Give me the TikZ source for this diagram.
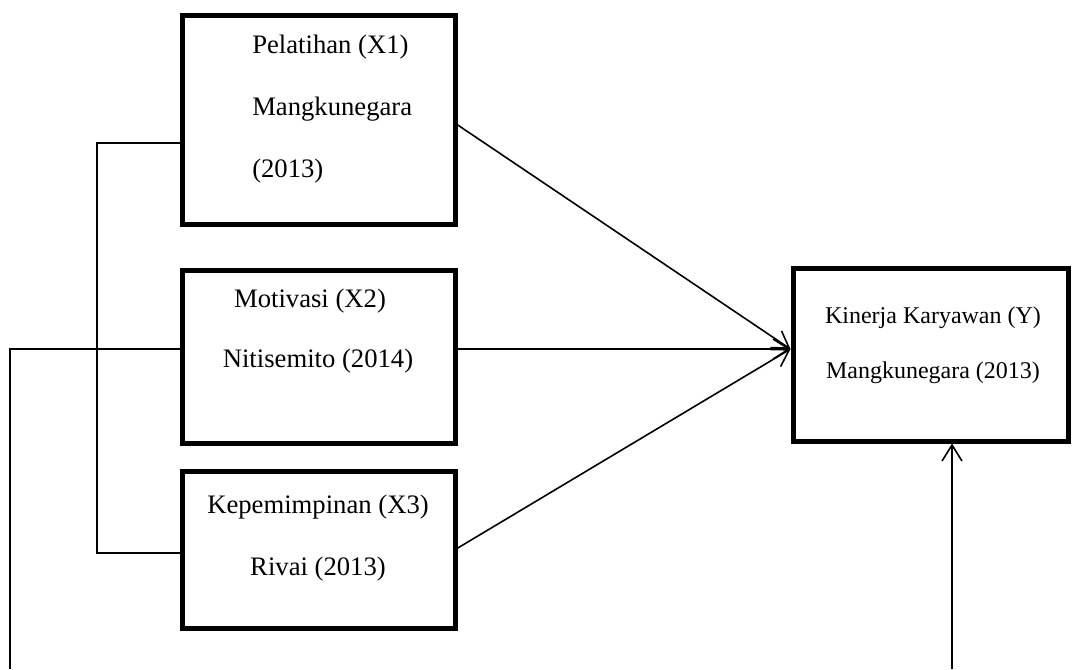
\documentclass[tikz,border=0pt]{standalone}
\usepackage{fontspec}
\setmainfont{Liberation Serif}
\usetikzlibrary{arrows.meta}

\begin{document}
\begin{tikzpicture}[x=0.75pt, y=-0.75pt, >={Straight Barb[length=12pt, width=15pt]},
	kotak/.style={draw, line width=3.75pt, inner sep=0pt, minimum width=204.75pt},
	garis/.style={line width=1.2pt},
	panah/.style={->, line width=1.2pt},
	teks/.style={font=\fontsize{20}{24}\selectfont, inner sep=0pt},
	teksy/.style={font=\fontsize{18}{22}\selectfont, inner sep=0pt}]

	\useasboundingbox (0,0) rectangle (1072,669);

	% kotak variabel
	\node[kotak, minimum height=156.75pt] (x1) at (318.5,119.5) {};
	\node[kotak, minimum height=129.75pt] (x2) at (318.5,356.5) {};
	\node[kotak, minimum height=117.75pt] (x3) at (318.5,549.5) {};
	\node[kotak, minimum width=206.25pt, minimum height=129.75pt] (y) at (930.5,354.5) {};

	% teks
	\node[teks, anchor=base west] (t1a) at (252,53) {Pelatihan (X1)};
	\node[teks, anchor=base west] (t1b) at (252,115) {Mangkunegara};
	\node[teks, anchor=base west] (t1c) at (252,177) {(2013)};
	\node[teks, anchor=base] (t2a) at (310,307) {Motivasi (X2)};
	\node[teks, anchor=base] (t2b) at (318,367) {Nitisemito (2014)};
	\node[teks, anchor=base] (t3a) at (318,513) {Kepemimpinan (X3)};
	\node[teks, anchor=base] (t3b) at (318,575) {Rivai (2013)};
	\node[teksy, anchor=base] (tya) at (933,323) {Kinerja Karyawan (Y)};
	\node[teksy, anchor=base] (tyb) at (933,378) {Mangkunegara (2013)};

	% garis kiri
	\coordinate (ka) at (97,143);
	\coordinate (kb) at (97,553);
	\draw[garis] (x1.west |- ka) -- (ka) -- (kb) -- (x3.west |- kb);
	\coordinate (la) at (10,349);
	\coordinate (lb) at (10,669);
	\draw[garis] (lb) -- (la) -- (x2.west |- la);

	% panah ke Y
	\coordinate (ujung) at ([yshift=4.1pt]y.west);
	\draw[panah] ([yshift=-4pt]x1.east) -- (ujung);
	\draw[panah] (x2.east |- ujung) -- (ujung);
	\draw[panah] ([yshift=1pt]x3.east) -- (ujung);
	\coordinate (bawah) at (952,669);
	\draw[panah] (bawah) -- (y.south -| bawah);
\end{tikzpicture}
\end{document}
